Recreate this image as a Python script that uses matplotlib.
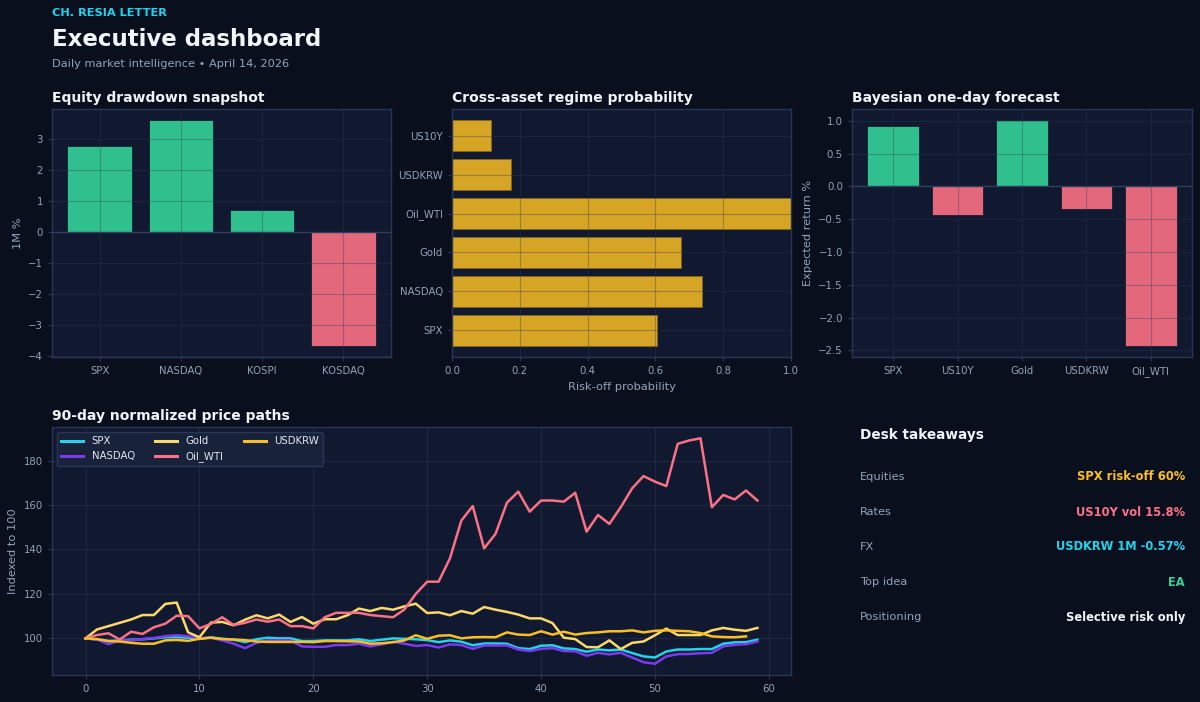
import matplotlib
matplotlib.use("Agg")
import matplotlib.pyplot as plt
import numpy as np

# ---------------- data ----------------
eq_names = ["SPX", "NASDAQ", "KOSPI", "KOSDAQ"]
eq_values = [2.78, 3.61, 0.70, -3.67]

regime_names = ["SPX", "NASDAQ", "Gold", "Oil_WTI", "USDKRW", "US10Y"]
regime_values = [0.604, 0.736, 0.676, 1.0, 0.175, 0.116]

fc_names = ["SPX", "US10Y", "Gold", "USDKRW", "Oil_WTI"]
fc_values = [0.923, -0.434, 1.01, -0.342, -2.43]

spx = [100, 99.5, 98.8, 99.1, 99.4, 99.6, 100.0, 100.5, 100.6, 100.3,
       99.8, 100.5, 99.8, 99.4, 98.3, 99.6, 100.3, 100.0, 100.0, 98.8,
       98.8, 99.1, 99.1, 99.1, 99.6, 98.8, 99.4, 100.0, 99.8, 99.6,
       99.2, 98.3, 99.1, 98.5, 96.9, 97.7, 97.7, 97.6, 95.6, 95.2,
       96.7, 96.9, 95.5, 95.2, 94.0, 95.0, 94.6, 95.0, 93.4, 91.9,
       91.4, 94.1, 95.0, 95.0, 95.2, 95.2, 97.6, 98.2, 98.3, 99.4]
nasdaq = [100, 99.5, 97.4, 99.1, 99.1, 99.7, 100.2, 101.0, 101.4, 101.0,
          100.0, 100.3, 99.1, 97.6, 95.6, 98.0, 99.1, 99.1, 99.1, 96.4,
          96.2, 96.2, 97.0, 97.0, 97.6, 96.4, 97.3, 98.5, 97.6, 96.6,
          97.0, 95.9, 97.3, 97.0, 95.3, 96.8, 96.8, 96.8, 95.0, 94.3,
          95.3, 95.6, 94.3, 94.2, 92.2, 93.5, 92.8, 93.5, 91.4, 89.3,
          88.6, 91.9, 92.9, 93.0, 93.3, 93.5, 96.4, 97.1, 97.4, 98.6]
gold = [100, 104.0, 105.5, 107.0, 108.5, 110.5, 110.5, 115.5, 116.1, 102.7,
        100.5, 107.1, 107.4, 105.9, 108.4, 110.4, 109.0, 110.7, 107.4, 109.6,
        106.6, 108.6, 108.6, 110.4, 113.4, 112.3, 113.7, 112.9, 114.4, 115.6,
        111.4, 111.7, 110.4, 112.3, 111.1, 114.1, 112.9, 111.9, 110.7, 109.0,
        109.0, 106.9, 100.3, 99.7, 96.1, 96.0, 99.1, 95.2, 98.0, 98.6,
        101.4, 104.4, 101.5, 101.5, 101.5, 103.6, 104.7, 103.9, 103.4, 104.7]
oil = [100, 101.5, 102.3, 99.5, 103.0, 102.0, 105.0, 106.6, 110.2, 110.0,
       104.5, 106.5, 109.5, 106.0, 107.0, 108.5, 107.5, 108.5, 105.5, 105.5,
       104.5, 109.5, 111.5, 111.5, 111.5, 110.5, 110.0, 109.5, 113.0, 120.0,
       125.5, 125.5, 136.0, 153.0, 159.5, 140.5, 147.0, 161.0, 166.0, 157.0,
       162.0, 162.0, 161.5, 165.5, 148.0, 155.5, 151.5, 159.0, 167.5, 173.0,
       170.5, 168.5, 187.5, 189.0, 190.0, 159.0, 164.5, 162.5, 166.5, 162.0]
usdkrw = [100, 99.7, 98.8, 98.6, 98.0, 97.6, 97.6, 99.1, 99.3, 98.9,
          99.8, 100.3, 99.7, 99.5, 99.2, 98.6, 98.4, 98.4, 98.4, 98.4,
          98.3, 98.8, 98.8, 98.7, 98.6, 97.6, 97.8, 98.3, 99.1, 101.4,
          99.8, 101.2, 101.4, 100.0, 100.5, 100.6, 100.5, 102.7, 101.7, 101.5,
          103.2, 101.7, 103.0, 101.7, 102.4, 102.7, 103.2, 103.2, 103.6, 102.7,
          103.4, 103.6, 103.4, 103.2, 102.4, 100.9, 100.6, 100.5, 100.9]

series_names = ["SPX", "NASDAQ", "Gold", "Oil_WTI", "USDKRW"]

take_labels = ["Equities", "Rates", "FX", "Top idea", "Positioning"]
take_values = ["SPX risk-off 60%", "US10Y vol 15.8%", "USDKRW 1M -0.57%", "EA", "Selective risk only"]

# ---------------- style ----------------
FIG_BG = "#0a0f1e"
AX_BG = "#111930"
GRID = "#1f2a42"
SPINE = "#2a3654"
TICK = "#94a3b8"
WHITE = "#f1f5f9"
CYAN = "#22d3ee"
GREEN = "#34d399"
PINK = "#fb7185"
GOLD = "#fbbf24"
PALE = "#fcd86a"
PURPLE = "#7c3aed"

TICK_FS = 7.3
LABEL_FS = 8.2
TITLE_FS = 10

plt.rcParams["font.family"] = ["DejaVu Sans"]

W, H = 1200, 702
fig = plt.figure(figsize=(W / 100, H / 100), dpi=100, facecolor=FIG_BG)


def px_axes(l, t, r, b):
    return fig.add_axes([l / W, 1 - b / H, (r - l) / W, (b - t) / H])


def style(ax, title, grid_on_top=False):
    ax.set_facecolor(AX_BG)
    for s in ax.spines.values():
        s.set_color(SPINE)
        s.set_linewidth(1.0)
    ax.tick_params(colors=TICK, labelsize=TICK_FS, length=3, width=0.8)
    ax.tick_params(axis="both", color=SPINE)
    if grid_on_top:
        ax.set_axisbelow(False)
        ax.grid(True, color="#2e3a58", alpha=0.35, linewidth=0.8)
    else:
        ax.set_axisbelow(True)
        ax.grid(True, color=GRID, linewidth=0.8)
    ax.set_title(title, loc="left", color=WHITE, fontsize=TITLE_FS,
                 fontweight="bold", pad=5)


# header
fig.text(52 / W, 1 - 13 / H, "CH. RESIA LETTER", color=CYAN, fontsize=8.2,
         fontweight="bold", va="center", ha="left")
fig.text(52 / W, 1 - 39 / H, "Executive dashboard", color=WHITE, fontsize=16.5,
         fontweight="bold", va="center", ha="left")
fig.text(52 / W, 1 - 64 / H, "Daily market intelligence \u2022 April 14, 2026",
         color=TICK, fontsize=8.2, va="center", ha="left")

# --- equity drawdown
ax1 = px_axes(52, 109, 391, 357)
style(ax1, "Equity drawdown snapshot", grid_on_top=True)
cols = [GREEN if v >= 0 else PINK for v in eq_values]
ax1.bar(eq_names, eq_values, color=cols, alpha=0.9, width=0.8,
        edgecolor=AX_BG, linewidth=0.6)
ax1.axhline(0, color="#334160", linewidth=1.0)
ax1.set_ylabel("1M %", color=TICK, fontsize=LABEL_FS)

# --- regime probability
ax2 = px_axes(452, 109, 791, 357)
style(ax2, "Cross-asset regime probability", grid_on_top=True)
ax2.barh(regime_names, regime_values, color=GOLD, alpha=0.85, height=0.8,
         edgecolor="#8a6a14", linewidth=0.6)
ax2.set_xlim(0, 1)
ax2.set_xlabel("Risk-off probability", color=TICK, fontsize=LABEL_FS)

# --- forecast
ax3 = px_axes(852, 109, 1192, 357)
style(ax3, "Bayesian one-day forecast", grid_on_top=True)
cols3 = [GREEN if v >= 0 else PINK for v in fc_values]
ax3.bar(fc_names, fc_values, color=cols3, alpha=0.9, width=0.8,
        edgecolor=AX_BG, linewidth=0.6)
ax3.axhline(0, color="#334160", linewidth=1.0)
ax3.set_ylabel("Expected return %", color=TICK, fontsize=LABEL_FS)

# --- price paths
ax4 = px_axes(52, 427, 791, 675)
style(ax4, "90-day normalized price paths")
series = [spx, nasdaq, gold, oil, usdkrw]
colors = [CYAN, PURPLE, PALE, PINK, GOLD]
for name, vals, c in zip(series_names, series, colors):
    ax4.plot(np.arange(len(vals)), vals, color=c, linewidth=1.8, label=name)
ax4.set_ylabel("Indexed to 100", color=TICK, fontsize=LABEL_FS)
ax4.set_xticks([0, 10, 20, 30, 40, 50, 60])
ax4.set_yticks([100, 120, 140, 160, 180])
leg = ax4.legend(loc="upper left", ncol=3, fontsize=TICK_FS, frameon=True,
                 facecolor="#18223a", edgecolor=SPINE, framealpha=1.0,
                 handlelength=2.2, columnspacing=2.0)
for t in leg.get_texts():
    t.set_color("#e2e8f0")
for line in leg.get_lines():
    line.set_linewidth(2.2)

# --- desk takeaways
fig.text(860 / W, 1 - 435 / H, "Desk takeaways", color=WHITE, fontsize=9.8,
         fontweight="bold", va="center", ha="left")
row_y = [477, 512, 547, 582, 617]
val_colors = [GOLD, PINK, CYAN, GREEN, WHITE]
for lab, val, y, c in zip(take_labels, take_values, row_y, val_colors):
    fig.text(860 / W, 1 - y / H, lab, color=TICK, fontsize=8.2, va="center", ha="left")
    fig.text(1185 / W, 1 - y / H, val, color=c, fontsize=8.3, fontweight="bold",
             va="center", ha="right")

fig.savefig("out.png", dpi=100, facecolor=FIG_BG)
